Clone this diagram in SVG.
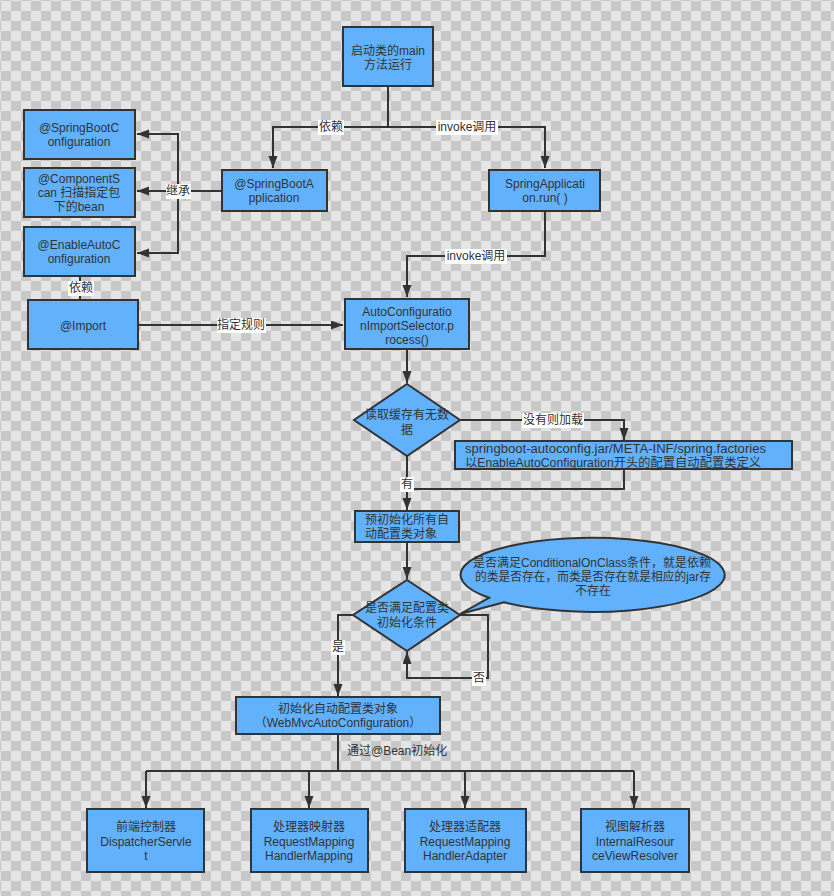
<svg xmlns="http://www.w3.org/2000/svg" width="834" height="896" viewBox="0 0 834 896">
<defs>
<pattern id="checker" x="1" y="1" width="20" height="20" patternUnits="userSpaceOnUse">
<rect width="20" height="20" fill="#e5e5e5"/>
<rect x="10" y="0" width="10" height="10" fill="#c8c8c8"/>
<rect x="0" y="10" width="10" height="10" fill="#c8c8c8"/>
</pattern>
<marker id="arr" markerUnits="userSpaceOnUse" markerWidth="12" markerHeight="10" refX="12" refY="4.5" orient="auto">
<path d="M0,0 L12,4.5 L0,9 z" fill="#333"/>
</marker>
<style>
.box{fill:#62b1fc;stroke:#333;stroke-width:2}
.t{font-family:"Liberation Sans","Noto Sans CJK SC",sans-serif;font-size:12px;fill:#333;text-anchor:middle;dominant-baseline:central}
.tl{text-anchor:start}
.ln{fill:none;stroke:#333;stroke-width:2}
.lb{fill:#ffffff}
</style>
</defs>
<rect width="834" height="896" fill="url(#checker)"/>

<g id="connectors">
<path class="ln" d="M388,86 V127 H273 V168" marker-end="url(#arr)"/>
<path class="ln" d="M388,127 H545 V168" marker-end="url(#arr)"/>
<path class="ln" d="M222,191 H178"/>
<path class="ln" d="M178,191 H137" marker-end="url(#arr)"/>
<path class="ln" d="M178,191 V134 H137" marker-end="url(#arr)"/>
<path class="ln" d="M178,191 V253 H137" marker-end="url(#arr)"/>
<path class="ln" d="M80,276 V299" marker-end="url(#arr)"/>
<path class="ln" d="M138,325 H343" marker-end="url(#arr)"/>
<path class="ln" d="M545,211 V256 H407 V297" marker-end="url(#arr)"/>
<path class="ln" d="M407,349 V383" marker-end="url(#arr)"/>
<path class="ln" d="M460,420 H624 V440" marker-end="url(#arr)"/>
<path class="ln" d="M624,469 V489 H407"/>
<path class="ln" d="M407,456 V510" marker-end="url(#arr)"/>
<path class="ln" d="M407,542 V579" marker-end="url(#arr)"/>
<path class="ln" d="M460,615 H488 V678 H407 V652" marker-end="url(#arr)"/>
<path class="ln" d="M353,615 H338 V696" marker-end="url(#arr)"/>
<path class="ln" d="M338,734 V771"/>
<path class="ln" d="M146,771 H634"/>
<path class="ln" d="M146,771 V808" marker-end="url(#arr)"/>
<path class="ln" d="M309,771 V808" marker-end="url(#arr)"/>
<path class="ln" d="M465,771 V808" marker-end="url(#arr)"/>
<path class="ln" d="M634,771 V808" marker-end="url(#arr)"/>

<g id="lbl-yilai1"><rect class="lb" x="318" y="120" width="26" height="15"/><text class="t" x="331" y="127">依赖</text></g>
<g id="lbl-invoke1"><rect class="lb" x="436" y="120" width="62" height="15"/><text class="t" x="467" y="127">invoke调用</text></g>
<g id="lbl-jicheng"><rect class="lb" x="166" y="184" width="25" height="15"/><text class="t" x="178" y="191">继承</text></g>
<g id="lbl-yilai2"><rect class="lb" x="68" y="281" width="26" height="15"/><text class="t" x="81" y="288">依赖</text></g>
<g id="lbl-rule"><rect class="lb" x="217" y="318" width="49" height="15"/><text class="t" x="241" y="325">指定规则</text></g>
<g id="lbl-invoke2"><rect class="lb" x="445" y="249" width="62" height="15"/><text class="t" x="476" y="256">invoke调用</text></g>
<g id="lbl-load"><rect class="lb" x="522" y="413" width="62" height="15"/><text class="t" x="553" y="420">没有则加载</text></g>
<g id="lbl-you"><rect class="lb" x="400" y="477" width="14" height="15"/><text class="t" x="407" y="484">有</text></g>
<g id="lbl-shi"><rect class="lb" x="331" y="640" width="14" height="15"/><text class="t" x="338" y="647">是</text></g>
<g id="lbl-fou"><rect class="lb" x="472" y="671" width="14" height="15"/><text class="t" x="479" y="678">否</text></g>
<g id="lbl-bean"><text class="t tl" x="347" y="751">通过@Bean初始化</text></g>
</g>

<g id="n-main"><rect class="box" x="343" y="27" width="90" height="59"/><text class="t" x="388" y="51">启动类的main</text><text class="t" x="388" y="65">方法运行</text></g>
<g id="n-sba"><rect class="box" x="222" y="170" width="105" height="41"/><text class="t" x="274" y="184">@SpringBootA</text><text class="t" x="274" y="198">pplication</text></g>
<g id="n-run"><rect class="box" x="489" y="170" width="111" height="41"/><text class="t" x="545" y="184">SpringApplicati</text><text class="t" x="545" y="198">on.run( )</text></g>
<g id="n-sbc"><rect class="box" x="24" y="110" width="111" height="49"/><text class="t" x="79" y="128">@SpringBootC</text><text class="t" x="79" y="142">onfiguration</text></g>
<g id="n-cs"><rect class="box" x="24" y="168" width="111" height="49"/><text class="t" x="79" y="179">@ComponentS</text><text class="t" x="79" y="193">can 扫描指定包</text><text class="t" x="79" y="207">下的bean</text></g>
<g id="n-eac"><rect class="box" x="24" y="227" width="111" height="49"/><text class="t" x="79" y="245">@EnableAutoC</text><text class="t" x="79" y="259">onfiguration</text></g>
<g id="n-import"><rect class="box" x="28" y="300" width="110" height="49"/><text class="t" x="83" y="326">@Import</text></g>
<g id="n-selector"><rect class="box" x="345" y="299" width="124" height="50"/><text class="t" x="407" y="312">AutoConfiguratio</text><text class="t" x="407" y="326">nImportSelector.p</text><text class="t" x="407" y="340">rocess()</text></g>
<g id="n-cache"><polygon class="box" points="407,384 460,420 407,456 354,420"/><text class="t" x="407" y="415">读取缓存有无数</text><text class="t" x="407" y="430">据</text></g>
<g id="n-factories"><rect class="box" x="455" y="441" width="337" height="28"/><text class="t tl" x="465" y="449" textLength="301" lengthAdjust="spacingAndGlyphs">springboot-autoconfig.jar/META-INF/spring.factories</text><text class="t tl" x="465" y="463" textLength="296" lengthAdjust="spacingAndGlyphs">以EnableAutoConfiguration开头的配置自动配置类定义</text></g>
<g id="n-preinit"><rect class="box" x="355" y="511" width="104" height="31"/><text class="t tl" x="365" y="520">预初始化所有自</text><text class="t tl" x="365" y="534">动配置类对象</text></g>
<g id="n-cond"><polygon class="box" points="407,580 460,615 407,651 353,615"/><text class="t" x="407" y="608">是否满足配置类</text><text class="t" x="407" y="623">初始化条件</text></g>
<g id="n-callout"><path class="box" d="M489,597.8 L460,614 L504,602.3 A132,37 0 1 0 489,597.8 Z"/><text class="t" x="592" y="563" textLength="238" lengthAdjust="spacingAndGlyphs">是否满足ConditionalOnClass条件，就是依赖</text><text class="t" x="593" y="577" textLength="236" lengthAdjust="spacingAndGlyphs">的类是否存在，而类是否存在就是相应的jar存</text><text class="t" x="593" y="591">不存在</text></g>
<g id="n-init"><rect class="box" x="236" y="697" width="204" height="37"/><text class="t" x="338" y="709">初始化自动配置类对象</text><text class="t" x="338" y="723">（WebMvcAutoConfiguration）</text></g>
<g id="n-ds"><rect class="box" x="87" y="809" width="117" height="63"/><text class="t" x="146" y="827">前端控制器</text><text class="t" x="146" y="842">DispatcherServle</text><text class="t" x="146" y="856">t</text></g>
<g id="n-rmhm"><rect class="box" x="251" y="809" width="117" height="63"/><text class="t" x="309" y="827">处理器映射器</text><text class="t" x="309" y="842">RequestMapping</text><text class="t" x="309" y="856">HandlerMapping</text></g>
<g id="n-rmha"><rect class="box" x="405" y="809" width="121" height="63"/><text class="t" x="465" y="827">处理器适配器</text><text class="t" x="465" y="842">RequestMapping</text><text class="t" x="465" y="856">HandlerAdapter</text></g>
<g id="n-ivr"><rect class="box" x="581" y="809" width="108" height="63"/><text class="t" x="635" y="827">视图解析器</text><text class="t" x="635" y="842">InternalResour</text><text class="t" x="635" y="856">ceViewResolver</text></g>
</svg>
